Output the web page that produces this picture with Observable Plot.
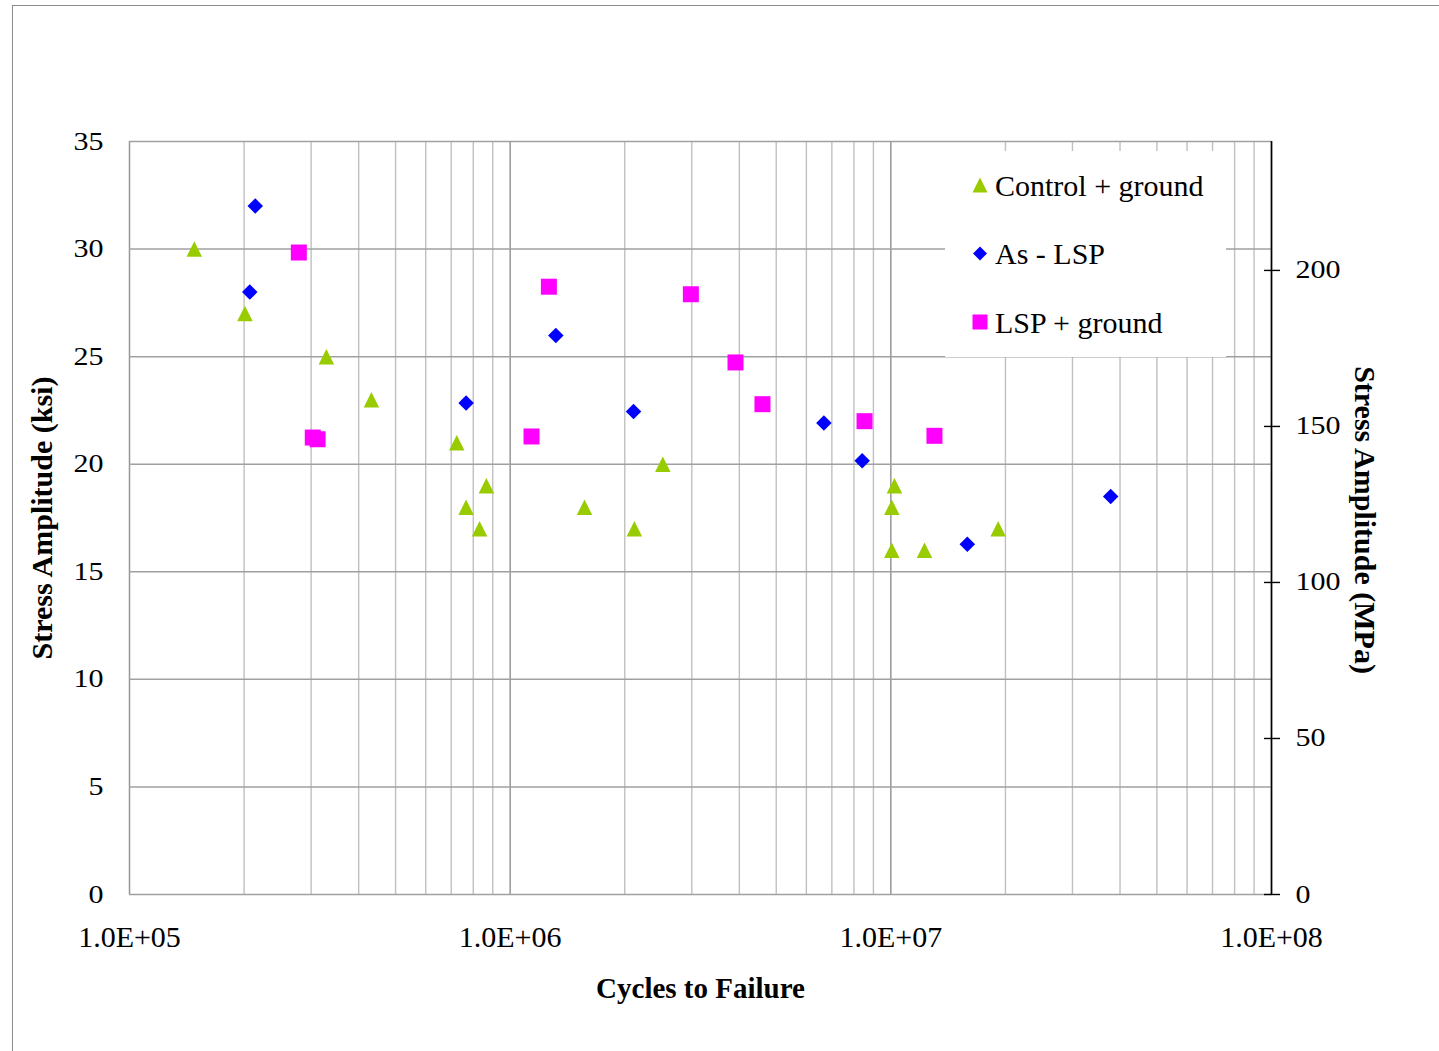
<!DOCTYPE html>
<html>
<head>
<meta charset="utf-8">
<script src="https://cdn.jsdelivr.net/npm/d3@7"></script>
<script src="https://cdn.jsdelivr.net/npm/@observablehq/plot@0.6"></script>
<style>
  html, body { margin: 0; padding: 0; background: #fff; overflow: hidden; }
  #wrap { position: relative; width: 1439px; height: 1051px; overflow: hidden; }
  #frame { position: absolute; left: 12px; top: 5px; width: 1500px; height: 1100px;
           border-top: 1.5px solid #8c8c8c; border-left: 1.5px solid #8c8c8c; box-sizing: border-box; }
  #chart { position: absolute; left: 0; top: 0; }
  #legend { position: absolute; left: 945px; top: 151px; }
</style>
</head>
<body>
<div id="wrap">
  <div id="frame"></div>
  <div id="chart"></div>
  <div id="legend"></div>
</div>
<script>
// ---------- data ----------
const controlCycles = [1.48e5, 2.01e5, 3.29e5, 4.32e5, 7.24e5, 7.66e5, 8.31e5, 8.66e5, 1.568e6, 2.12e6, 2.518e6, 1.022e7, 1.006e7, 1.006e7, 1.226e7, 1.914e7];
const controlKsi    = [30, 27, 25, 23, 21, 18, 17, 19, 18, 17, 20, 19, 18, 16, 16, 17];

const asLspCycles = [2.14e5, 2.07e5, 7.66e5, 1.318e6, 2.109e6, 6.67e6, 8.41e6, 1.588e7, 3.78e7];
const asLspKsi    = [32, 28, 22.84, 25.98, 22.45, 21.91, 20.16, 16.28, 18.5];

const lspCycles = [2.785e5, 3.03e5, 3.12e5, 1.138e6, 1.264e6, 2.983e6, 3.908e6, 4.60e6, 8.53e6, 1.302e7];
const lspKsi    = [29.84, 21.24, 21.16, 21.29, 28.25, 27.9, 24.73, 22.79, 22.0, 21.32];

const seriesNames = ["Control + ground", "As - LSP", "LSP + ground"];
const seriesColors = ["#99cc00", "#0000ff", "#ff00ff"];

const xMajorTicks = [1e5, 1e6, 1e7, 1e8];
const xMinorTicks = [2e5, 3e5, 4e5, 5e5, 6e5, 7e5, 8e5, 9e5,
                     2e6, 3e6, 4e6, 5e6, 6e6, 7e6, 8e6, 9e6,
                     2e7, 3e7, 4e7, 5e7, 6e7, 7e7, 8e7, 9e7];
const ksiTicks = [0, 5, 10, 15, 20, 25, 30, 35];
const mpaTicks = [0, 50, 100, 150, 200];
const MPA_PER_KSI = 6.894757;

// ---------- marker shapes (Excel style) ----------
const triSymbol = { draw(ctx, size) { const s = Math.sqrt(size) / 2;
  ctx.moveTo(0, -s); ctx.lineTo(s, s); ctx.lineTo(-s, s); ctx.closePath(); } };
const diamondSymbol = { draw(ctx, size) { const s = Math.sqrt(size) / 2;
  ctx.moveTo(0, -s); ctx.lineTo(s, 0); ctx.lineTo(0, s); ctx.lineTo(-s, 0); ctx.closePath(); } };
const squareSymbol = { draw(ctx, size) { const s = Math.sqrt(size) / 2;
  ctx.rect(-s, -s, 2 * s, 2 * s); } };
const rFor = side => side / Math.sqrt(Math.PI);

const toRows = (xs, ys) => xs.map((c, i) => ({ cycles: c, ksi: ys[i] }));
const controlRows = toRows(controlCycles, controlKsi);
const asLspRows = toRows(asLspCycles, asLspKsi);
const lspRows = toRows(lspCycles, lspKsi);

const serif = "'Liberation Serif', 'Times New Roman', serif";

const plot = Plot.plot({
  width: 1439,
  height: 1051,
  marginLeft: 129,
  marginRight: 168,
  marginTop: 141,
  marginBottom: 157,
  style: { fontFamily: serif, fontSize: "25px", color: "#000", background: "transparent", overflow: "visible" },
  x: { type: "log", domain: [1e5, 1e8] },
  y: { domain: [0, 35] },
  marks: [
    Plot.ruleX(xMinorTicks, { stroke: "#c0c0c0", strokeWidth: 1.4 }),
    Plot.ruleX(xMajorTicks, { stroke: "#969696", strokeWidth: 1.5 }),
    Plot.ruleY(ksiTicks, { stroke: "#a0a0a0", strokeWidth: 1.5 }),
    Plot.axisX({ ticks: xMajorTicks, tickSize: 0, tickPadding: 31, fontSize: 30, label: null,
      tickFormat: d => "1.0E+" + String(Math.round(Math.log10(d))).padStart(2, "0") }),
    Plot.axisY({ ticks: ksiTicks, tickSize: 0, tickPadding: 26, label: null }),
    Plot.ruleX([1e8], { stroke: "#000", strokeWidth: 1.6 }),
    Plot.axisY({ anchor: "right", ticks: mpaTicks.map(m => m / MPA_PER_KSI), tickSize: 8, tickPadding: 16,
      stroke: "#000", strokeWidth: 1.4, label: null,
      tickFormat: d => String(Math.round(d * MPA_PER_KSI)) }),
    Plot.axisY({ anchor: "right", ticks: mpaTicks.map(m => m / MPA_PER_KSI), tickSize: -8,
      stroke: "#000", strokeWidth: 1.4, label: null, tickFormat: () => "" }),
    Plot.dot(controlRows, { x: "cycles", y: "ksi", symbol: triSymbol, r: rFor(15.5), fill: seriesColors[0], stroke: "none" }),
    Plot.dot(asLspRows, { x: "cycles", y: "ksi", symbol: diamondSymbol, r: rFor(15.5), fill: seriesColors[1], stroke: "none" }),
    Plot.dot(lspRows, { x: "cycles", y: "ksi", symbol: squareSymbol, r: rFor(16), fill: seriesColors[2], stroke: "none" }),
    Plot.text(["Cycles to Failure"], { frameAnchor: "bottom", dy: 94, lineAnchor: "middle", textAnchor: "middle",
      fontWeight: "bold", fontSize: 29, fill: "#000" }),
    Plot.text(["Stress Amplitude (ksi)"], { frameAnchor: "left", dx: -87.5, rotate: -90, lineAnchor: "middle", textAnchor: "middle",
      fontWeight: "bold", fontSize: 30, fill: "#000" }),
    Plot.text(["Stress Amplitude (MPa)"], { frameAnchor: "right", dx: 93.5, dy: 2, rotate: 90, lineAnchor: "middle", textAnchor: "middle",
      fontWeight: "bold", fontSize: 30, fill: "#000" })
  ]
});
document.getElementById("chart").appendChild(plot);

// y tick labels in the reference are drawn horizontally stretched
plot.querySelectorAll('g[aria-label="y-axis tick label"] text').forEach(t => {
  const L = t.getComputedTextLength();
  if (L > 0) { t.setAttribute("textLength", L * 1.2); t.setAttribute("lengthAdjust", "spacingAndGlyphs"); }
});

// ---------- legend ----------
const legendSymbols = [triSymbol, diamondSymbol, squareSymbol];
const legendSides = [15, 14, 15];
const lg = d3.select("#legend").append("svg").attr("width", 281).attr("height", 206)
  .style("font-family", serif);
lg.append("rect").attr("width", 281).attr("height", 206).attr("fill", "#fff");
seriesNames.forEach((name, i) => {
  const cy = 34 + i * 68.5;
  lg.append("path")
    .attr("transform", `translate(35,${cy})`)
    .attr("d", d3.symbol(legendSymbols[i], legendSides[i] * legendSides[i])())
    .attr("fill", seriesColors[i]);
  lg.append("text").attr("x", 50).attr("y", cy + 10.5)
    .attr("font-size", 30).attr("fill", "#000").text(name);
});
</script>
</body>
</html>
